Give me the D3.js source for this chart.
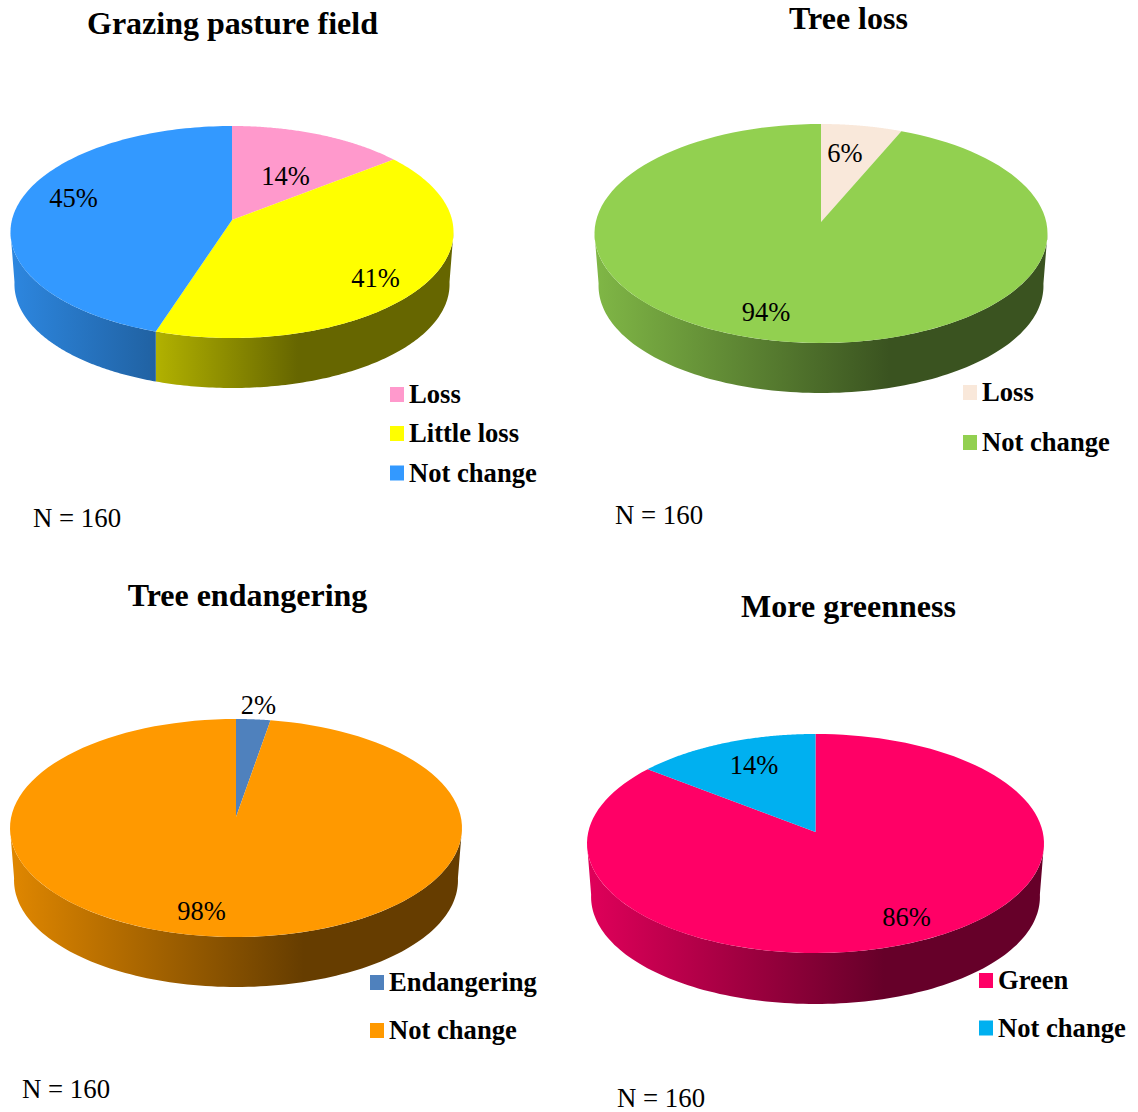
<!DOCTYPE html>
<html><head><meta charset="utf-8">
<script src="https://cdn.jsdelivr.net/npm/d3@7"></script>
<style>html,body{margin:0;padding:0;background:#fff}svg{display:block}text{font-family:"Liberation Serif",serif;fill:#000}</style>
</head><body><div id="c"></div>
<script>
const titles = ["Grazing pasture field","Tree loss","Tree endangering","More greenness"];
const categoriesA = ["Loss","Little loss","Not change"];
const valuesA = [14.4,40.6,45];
const labelsA = ["14%","41%","45%"];
const colorsA = ["#ff99cc","#ffff00","#3399ff"];
const categoriesB = ["Loss","Not change"];
const valuesB = [6.4,93.6];
const labelsB = ["6%","94%"];
const colorsB = ["#f9e8da","#92d050"];
const categoriesC = ["Endangering","Not change"];
const valuesC = [2.7,97.3];
const labelsC = ["2%","98%"];
const colorsC = ["#4f81bd","#ff9900"];
const categoriesD = ["Green","Not change"];
const valuesD = [85.6,14.4];
const labelsD = ["86%","14%"];
const colorsD = ["#ff0066","#00b0f0"];
const sampleSize = "N = 160";

const W=1138,H=1112;
const svg=d3.select("#c").append("svg").attr("width",W).attr("height",H);
const defs=svg.append("defs");

const panels=[
 {title:titles[0],tx:232.5,ty:34,cats:categoriesA,vals:valuesA,labs:labelsA,cols:colorsA,
  left:10,right:453,ax:232,ay:220,top:126,bottom:338,depth:50,
  lp:[[285.5,184.5],[375.5,286.5],[73.5,206.5]],leg:[[390,394.5],[390,433.5],[390,473]],nx:33,ny:526.5},
 {title:titles[1],tx:848.5,ty:29,cats:categoriesB,vals:valuesB,labs:labelsB,cols:colorsB,
  left:595,right:1048,ax:821,ay:222,top:124,bottom:343,depth:50,
  lp:[[845,161.5],[766,320.5]],leg:[[963,392.5],[963,442.5]],nx:615,ny:523.5},
 {title:titles[2],tx:247.5,ty:606,cats:categoriesC,vals:valuesC,labs:labelsC,cols:colorsC,
  left:10,right:462,ax:236,ay:817,top:719,bottom:937,depth:50,
  lp:[[258.5,713.5],[201.5,919.5]],leg:[[370,982.5],[370,1030.5]],nx:22,ny:1097.5},
 {title:titles[3],tx:848.5,ty:617,cats:categoriesD,vals:valuesD,labs:labelsD,cols:colorsD,
  left:587,right:1044,ax:815.5,ay:832,top:734,bottom:953,depth:51,
  lp:[[906.5,925.5],[754,773.5]],leg:[[979,980.5],[979,1028]],nx:617,ny:1106.5}
];
const line=d3.line();
const pie=d3.pie().sort(null).value(d=>d);
const TAU=2*Math.PI;

panels.forEach((p,pi)=>{
  const g=svg.append("g");
  const up=p.ay-p.top, dn=p.bottom-p.ay;
  const k=(dn-up)/(dn+up), b=up*(1+k);
  const rx=(p.right-p.left)/2, a=rx*Math.sqrt(1-k*k);
  const proj=t=>{const u=Math.sin(t),v=-Math.cos(t),d=1-k*v;return [p.ax+a*u/d,p.ay+b*v/d,v];};
  const base=t=>{const q=proj(t),s=0.982+0.018*Math.max(0,(q[2]-k)/(1-k));return [p.ax+(q[0]-p.ax)*s,q[1]+p.depth];};
  const arcs=pie(p.vals);
  const th0=Math.acos(-k), th1=TAU-th0;
  const ts=(s,e)=>d3.range(0,121).map(i=>s+(e-s)*i/120);
  arcs.forEach((d,i)=>{
    const s=Math.max(d.startAngle,th0), e=Math.min(d.endAngle,th1);
    if(e<=s) return;
    const id="grad"+pi+"_"+i, c=d3.rgb(p.cols[i]);
    const shade=f=>d3.rgb(c.r*f,c.g*f,c.b*f).formatHex();
    const startShade=p.cols[i]==="#ffff00"?1:.88;
    const gr=defs.append("linearGradient").attr("id",id).attr("gradientUnits","userSpaceOnUse")
      .attr("x1",p.left).attr("x2",p.right).attr("y1",0).attr("y2",0);
    [[0,startShade],[.65,.4],[1,.4]].forEach(st=>gr.append("stop").attr("offset",st[0]).attr("stop-color",shade(st[1])));
    const t=ts(s,e);
    const pts=t.map(proj).map(q=>[q[0],q[1]]).concat(t.slice().reverse().map(base));
    g.append("path").attr("d",line(pts)+"Z").attr("fill",`url(#${id})`);
  });
  arcs.forEach((d,i)=>{
    const pts=[[p.ax,p.ay]].concat(ts(d.startAngle,d.endAngle).map(proj).map(q=>[q[0],q[1]]));
    g.append("path").attr("d",line(pts)+"Z").attr("fill",p.cols[i]);
  });
  g.append("text").attr("x",p.tx).attr("y",p.ty).attr("text-anchor","middle")
    .attr("font-size",32).attr("font-weight","bold").text(p.title);
  p.labs.forEach((l,i)=>g.append("text").attr("x",p.lp[i][0]).attr("y",p.lp[i][1]).attr("text-anchor","middle")
    .attr("font-size",26.5).text(l));
  p.cats.forEach((c,i)=>{
    g.append("rect").attr("x",p.leg[i][0]).attr("y",p.leg[i][1]-7.5).attr("width",14).attr("height",15).attr("fill",p.cols[i]);
    g.append("text").attr("x",p.leg[i][0]+19).attr("y",p.leg[i][1]+8.5).attr("font-size",26.6).attr("font-weight","bold").text(c);
  });
  g.append("text").attr("x",p.nx).attr("y",p.ny).attr("font-size",26.8).text(sampleSize);
});
</script></body></html>
